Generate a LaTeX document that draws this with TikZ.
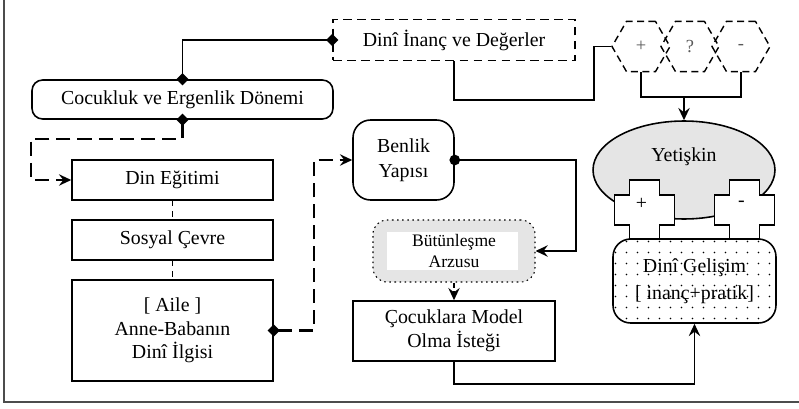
\documentclass[tikz,border=0pt]{standalone}
\usepackage{fontspec}
\setmainfont{Liberation Serif}
\usetikzlibrary{arrows.meta,shapes.geometric,patterns.meta,calc}

\begin{document}
\begin{tikzpicture}
[x=0.02cm,y=-0.02cm,
  font=\rmfamily\fontsize{11.3}{13.5}\selectfont,
  boxdecorate/.style={shape=rectangle,draw,line width=0.9pt,align=center,inner sep=0pt},
  roundbox/.style={boxdecorate,rounded corners=6pt},
  hexdecorate/.style={shape=regular polygon,regular polygon sides=6,minimum size=1.16cm,
    draw,dash pattern=on 4pt off 2.5pt,line width=0.8pt,inner sep=0pt,
    text=gray!70!black,font=\rmfamily\fontsize{10.5}{12}\selectfont},
  linedecorate/.style={line width=1.1pt},
  dashdecorate/.style={line width=1.3pt,dash pattern=on 8pt off 4pt},
  tipdecorate/.style={-{Stealth[length=7pt,width=6.5pt,inset=2.5pt]}}]
\useasboundingbox (0,0) rectangle (799,409);
%% frame
\draw[line width=1pt,gray!60!black] (4,-20) -- (4,402) -- (820,402);
%% nodes or boxes
\node (values) at (454,40) [boxdecorate,dash pattern=on 5pt off 3pt,
  minimum width=4.84cm,minimum height=0.82cm] {Dinî İnanç ve Değerler};
\node (childhood) at (182.5,99.5) [roundbox,minimum width=6.02cm,
  minimum height=0.78cm] {Cocukluk ve Ergenlik Dönemi};
\foreach \nodename/\y/\txt in {education/180/Din Eğitimi, social/240/Sosyal Çevre} {
  \node (\nodename) at (172.5,\y) [boxdecorate,minimum width=4.02cm,
    minimum height=0.8cm] {\txt};
}
\node (family) at (172.5,330.5) [boxdecorate,minimum width=4.02cm,
  minimum height=2.02cm] {[ Aile ]\\Anne-Babanın\\Dinî İlgisi};
\node (self) at (403.5,160) [roundbox,rounded corners=10pt,minimum width=2.02cm,
  minimum height=1.6cm,font=\rmfamily\fontsize{11.3}{14}\selectfont] {Benlik\\Yapısı};
\node (integration) at (454,251) [boxdecorate,dotted,line width=0.6pt,
  rounded corners=8pt,fill=gray!20,minimum width=3.24cm,minimum height=1.24cm,
  font=\rmfamily\fontsize{10}{12}\selectfont,
  path picture={\fill[white,sharp corners]
    ([shift={(0.28cm,-0.24cm)}]path picture bounding box.north west) rectangle
    ([shift={(-0.34cm,0.24cm)}]path picture bounding box.south east);}]
  {Bütünleşme\\Arzusu};
\node (model) at (454,331) [boxdecorate,minimum width=4.04cm,
  minimum height=1.2cm] {Çocuklara Model\\Olma İsteği};
\foreach \nodename/\x/\txt in {hexplus/641/+, hexwhat/690/?, hexminus/741/-} {
  \node (\nodename) at (\x,46.5) [hexdecorate] {\txt};
}
\node (adult) at (684,170) [ellipse,draw,line width=0.9pt,fill=gray!20,
  minimum width=3.64cm,minimum height=1.96cm,
  label={[yshift=0.26cm]center:Yetişkin}] {};
\foreach \nodename/\cx/\txt in {crossplus/644.5/+, crossminus/744.5/-} {
  \draw[line width=0.9pt,fill=white] (\cx-15,180) -- (\cx+15,180) -- (\cx+15,195)
    -- (\cx+30,195) -- (\cx+30,225) -- (\cx+15,225) -- (\cx+15,239)
    -- (\cx-15,239) -- (\cx-15,225) -- (\cx-30,225) -- (\cx-30,195)
    -- (\cx-15,195) -- cycle;
  \node (\nodename) at (\cx-3,204) {\txt};
}
\node (growth) at (694.5,281) [roundbox,rounded corners=10pt,
  pattern={Dots[distance=6.5pt,radius=0.5pt]},minimum width=3.26cm,
  minimum height=1.68cm,font=\rmfamily\fontsize{11.3}{15.5}\selectfont]
  {Dinî Gelişim\\{[}~inanç+pratik]};
%% connectors or lines
\coordinate (meet) at (684,97);
\draw[linedecorate,{Diamond[length=7pt,width=7pt]}-{Diamond[length=7pt,width=7pt]},
  shorten <=-3.5pt,shorten >=-3.5pt] (values.west) -| (childhood.north);
\draw[dashdecorate,{Diamond[length=7pt,width=7pt]}-{Stealth[length=7pt,width=6.5pt,inset=2.5pt]},
  shorten <=-3.5pt] (childhood.south) -- ++(0,19)
  -| ($(education.west)+(-40,0)$) -- (education.west);
\draw[line width=0.7pt,dashed] (education.south) -- (social.north);
\draw[line width=0.7pt,dashed] (social.south) -- (family.north);
\draw[dashdecorate,{Diamond[length=7pt,width=7pt]}-{Stealth[length=7pt,width=6.5pt,inset=2.5pt]},
  shorten <=-3.5pt] (family.east) -- ++(40,0) |- (self.west);
\draw[linedecorate,{Circle[length=6pt]}-{Stealth[length=7pt,width=6.5pt,inset=2.5pt]},
  shorten <=-3pt] (self.east) -- ++(121,0) |- (integration.east);
\draw[line width=0.8pt,densely dashed,tipdecorate] (integration.south) -- (model.north);
\draw[linedecorate,tipdecorate] (model.south) -- ++(0,22) -| (growth.south);
\draw[linedecorate] (values.south) -- ++(0,39)
  -| ($(hexplus.west)+(-17,0)$) -- (hexplus.west);
\draw[linedecorate] (hexplus.south) |- (meet) -| (hexminus.south);
\draw[linedecorate,tipdecorate] (meet) -- (adult.north);
\end{tikzpicture}
\end{document}
